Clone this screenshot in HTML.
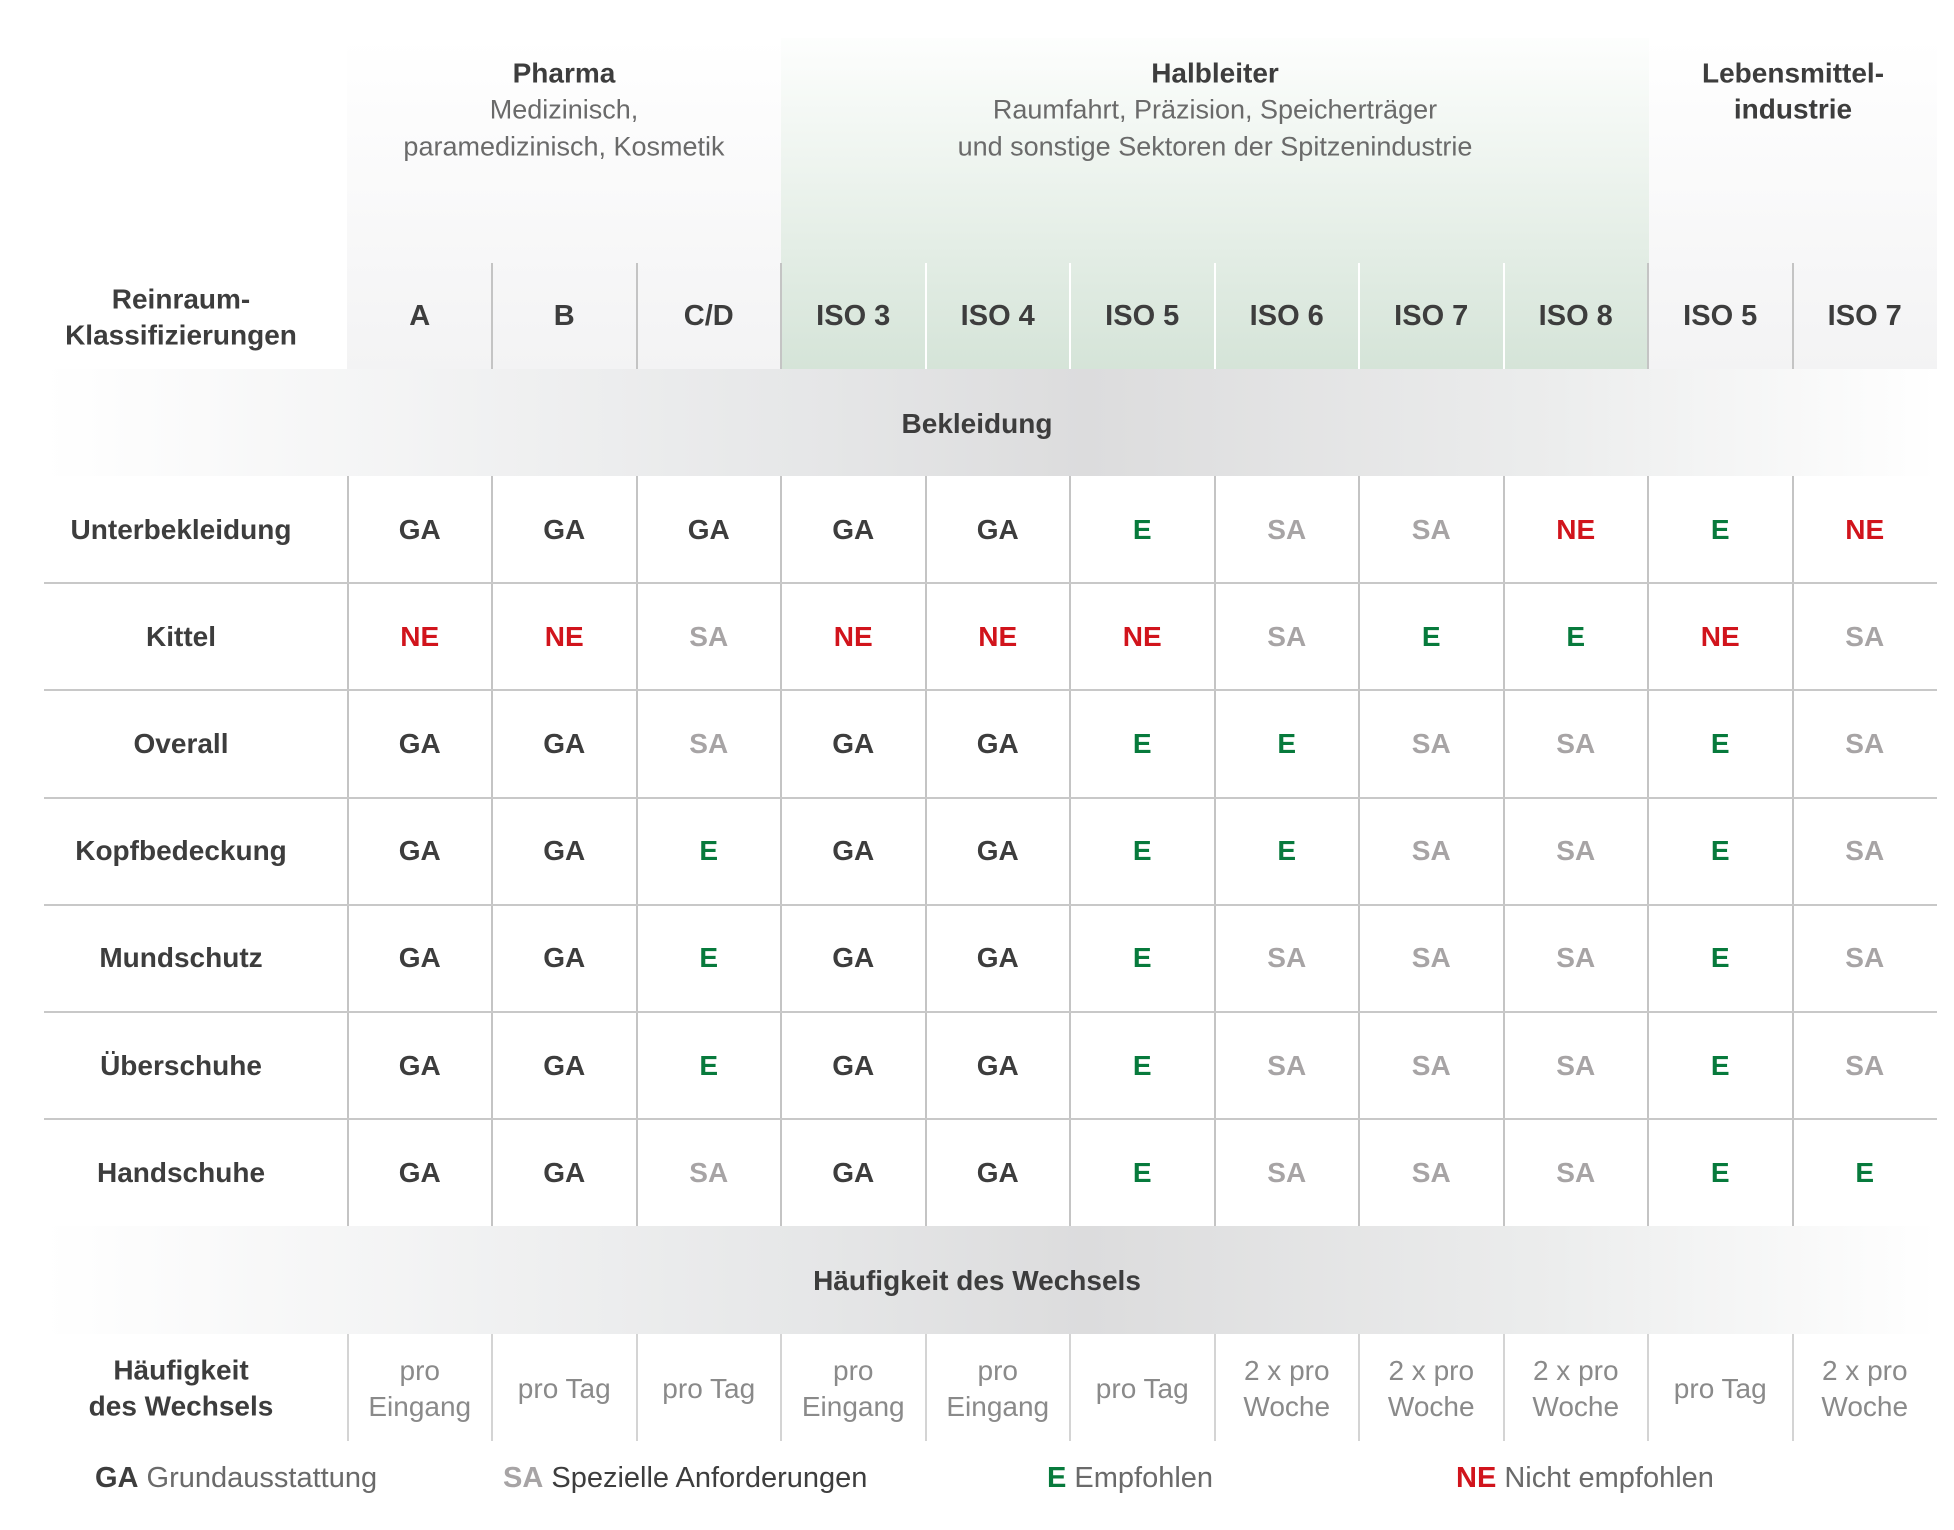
<!DOCTYPE html>
<html><head><meta charset="utf-8">
<style>
body{margin:0;width:1954px;height:1530px;background:#fff;position:relative;overflow:hidden;font-family:"Liberation Sans",sans-serif;}
.a{position:absolute;}
.t{position:absolute;text-align:center;transform:translate(-50%,-50%);white-space:nowrap;line-height:1.3;}
.b{font-weight:bold;color:#3d3d3d;}
.l{color:#6a6a6a;font-weight:normal;}
</style></head><body>
<div class="a" style="left:347px;top:38px;width:434px;height:331px;background:linear-gradient(#fff,#f3f3f4)"></div>
<div class="a" style="left:781px;top:38px;width:868px;height:331px;background:linear-gradient(#fdfefd,#d5e4d8)"></div>
<div class="a" style="left:1649px;top:38px;width:288px;height:331px;background:linear-gradient(#fff,#f3f3f4)"></div>
<div class="a" style="left:44px;top:369px;width:1893px;height:107px;background:linear-gradient(90deg,#fff,#e6e7e8 40%,#dcdcdd 55%,#eceded 80%,#fff)"></div>
<div class="a" style="left:44px;top:1226px;width:1893px;height:108px;background:linear-gradient(90deg,#fff,#e6e7e8 40%,#dcdcdd 55%,#eceded 80%,#fff)"></div>

<div class="t" style="left:564px;top:110px;font-size:28px"><span class="b">Pharma</span><br><span class="l" style="font-size:27px">Medizinisch,<br>paramedizinisch, Kosmetik</span></div>
<div class="t" style="left:1215px;top:110px;font-size:28px"><span class="b">Halbleiter</span><br><span class="l" style="font-size:27px">Raumfahrt, Präzision, Speicherträger<br>und sonstige Sektoren der Spitzenindustrie</span></div>
<div class="t b" style="left:1793px;top:92px;font-size:28px">Lebensmittel-<br>industrie</div>
<div class="t b" style="left:181px;top:318px;font-size:28px">Reinraum-<br>Klassifizierungen</div>
<div class="t b" style="left:977px;top:424px;font-size:28px">Bekleidung</div>
<div class="t b" style="left:977px;top:1281px;font-size:28px">Häufigkeit des Wechsels</div>
<div class="t b" style="left:181px;top:1389px;font-size:28px">Häufigkeit<br>des Wechsels</div>

<div id="grid"></div>

<div class="a" style="left:0;top:1462px;width:1954px;height:44px;font-size:29px;color:#6a6a6a">
<span class="a" style="left:95px"><b style="color:#3d3d3d">GA</b> Grundausstattung</span>
<span class="a" style="left:503px"><b style="color:#a7a4a5">SA</b> <span style="color:#3d3d3d">Spezielle Anforderungen</span></span>
<span class="a" style="left:1047px"><b style="color:#077a3c">E</b> Empfohlen</span>
<span class="a" style="left:1456px"><b style="color:#d1141c">NE</b> Nicht empfohlen</span>
</div>

<script>
const columns=["A","B","C/D","ISO 3","ISO 4","ISO 5","ISO 6","ISO 7","ISO 8","ISO 5","ISO 7"];
const rowLabels=["Unterbekleidung","Kittel","Overall","Kopfbedeckung","Mundschutz","Überschuhe","Handschuhe"];
const values=[
["GA","GA","GA","GA","GA","E","SA","SA","NE","E","NE"],
["NE","NE","SA","NE","NE","NE","SA","E","E","NE","SA"],
["GA","GA","SA","GA","GA","E","E","SA","SA","E","SA"],
["GA","GA","E","GA","GA","E","E","SA","SA","E","SA"],
["GA","GA","E","GA","GA","E","SA","SA","SA","E","SA"],
["GA","GA","E","GA","GA","E","SA","SA","SA","E","SA"],
["GA","GA","SA","GA","GA","E","SA","SA","SA","E","E"]];
const frequency=["pro<br>Eingang","pro Tag","pro Tag","pro<br>Eingang","pro<br>Eingang","pro Tag","2 x pro<br>Woche","2 x pro<br>Woche","2 x pro<br>Woche","pro Tag","2 x pro<br>Woche"];
const colors={GA:"#3d3d3d",SA:"#a7a4a5",E:"#077a3c",NE:"#d1141c"};
const X0=347.5,CW=144.5,L=44,R=1937,Y0=476,RH=107.2;
const g=document.getElementById('grid');
function div(cls,st,html){const d=document.createElement('div');d.className=cls;d.style.cssText=st;if(html!==undefined)d.innerHTML=html;g.appendChild(d);return d;}
columns.forEach((c,i)=>{
 const cx=X0+CW*(i+0.5);
 const h=div('t b','left:'+cx+'px;top:317px;font-size:29px',c);
 
 
 if(i>0){const gl=div('a','left:'+(X0+CW*i-1)+'px;top:263px;width:2px;height:106px;background:'+((i>=4&&i<=8)?'#ffffff':'#c4c4c4'));
 
 }
 const f=div('t l','left:'+cx+'px;top:1389px;font-size:28px;line-height:36px;color:#8a8a8a',frequency[i]);
 
 
});
for(let i=0;i<11;i++){
 const x=X0+CW*i-1;
 const v=div('a','left:'+x+'px;top:'+Y0+'px;width:2px;height:'+(RH*7)+'px;background:#c4c4c4');
 
 
 const v2=div('a','left:'+x+'px;top:1334px;width:2px;height:107px;background:#d4d4d4');
 
 
}
rowLabels.forEach((r,j)=>{
 const cy=Y0+RH*(j+0.5);
 const lb=div('t b','left:181px;top:'+cy+'px;font-size:28px',r);
 
 
 if(j<6){const hl=div('a','left:'+L+'px;top:'+(Y0+RH*(j+1)-1)+'px;width:'+(R-L)+'px;height:2px;background:#c8c8c8');
 
 }
 values[j].forEach((v,i)=>{
  const c=div('t','left:'+(X0+CW*(i+0.5))+'px;top:'+cy+'px;font-size:28px;font-weight:bold;color:'+colors[v],v);
  
  
 });
});
</script>
</body></html>
